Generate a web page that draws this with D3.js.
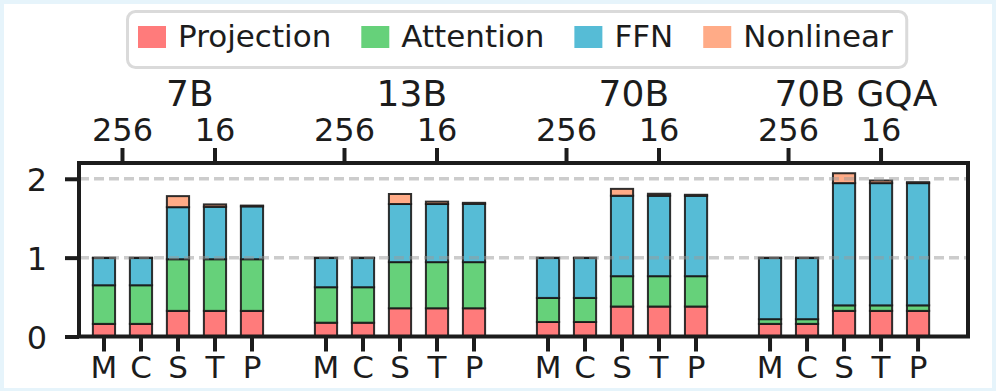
<!DOCTYPE html>
<html>
<head>
<meta charset="utf-8">
<script src="https://cdn.jsdelivr.net/npm/d3@7"></script>
<style>
  html, body { margin: 0; padding: 0; background: #e6f4fb; }
  svg { display: block; font-family: "DejaVu Sans", sans-serif; }
</style>
</head>
<body>
<svg id="chart" width="996" height="391"></svg>
<script>
// chart values
var groups = ["7B", "13B", "70B", "70B GQA"];
var methods = ["M", "C", "S", "T", "P"];
var series = ["Projection", "Attention", "FFN", "Nonlinear"];
var colors = ["#ff7b7b", "#66d17a", "#56bcd6", "#ffab87"];
var topTicks = ["256", "16"];
var yTicks = [0, 1, 2];

// one value per bar: 7B M C S T P, 13B ..., 70B ..., 70B GQA ...
var projection = [0.16, 0.16, 0.325, 0.325, 0.325,
                  0.175, 0.175, 0.358, 0.358, 0.358,
                  0.184, 0.184, 0.38, 0.38, 0.38,
                  0.16, 0.16, 0.325, 0.325, 0.325];
var attention  = [0.49, 0.49, 0.655, 0.655, 0.655,
                  0.45, 0.45, 0.585, 0.585, 0.585,
                  0.305, 0.305, 0.385, 0.385, 0.385,
                  0.06, 0.06, 0.07, 0.07, 0.07];
var ffn        = [0.345, 0.345, 0.66, 0.665, 0.67,
                  0.37, 0.37, 0.737, 0.737, 0.74,
                  0.506, 0.506, 1.02, 1.02, 1.02,
                  0.775, 0.775, 1.55, 1.55, 1.55];
var nonlinear  = [0.005, 0.005, 0.14, 0.03, 0.01,
                  0.005, 0.005, 0.127, 0.03, 0.012,
                  0.005, 0.005, 0.087, 0.025, 0.012,
                  0.005, 0.005, 0.125, 0.033, 0.012];

var svg = d3.select("#chart");
var ink = "#1c1c1c";

// white card
svg.append("rect")
  .attr("x", 4).attr("y", 4)
  .attr("width", 988).attr("height", 384)
  .attr("fill", "#ffffff");

var plotLeft = 79, plotRight = 968, plotTop = 163, plotBottom = 336.5;

// slot index: 6 slots per group (5 bars + gap)
var x = d3.scaleLinear()
  .domain([-0.675, 23.35])
  .range([plotLeft, plotRight]);

var y = d3.scaleLinear()
  .domain([0, 2.2])
  .range([plotBottom, plotTop]);

var rows = [];
groups.forEach(function(g, gi) {
  methods.forEach(function(m, mi) {
    var k = gi * 5 + mi;
    rows.push({
      slot: gi * 6 + mi,
      method: m,
      Projection: projection[k],
      Attention: attention[k],
      FFN: ffn[k],
      Nonlinear: nonlinear[k]
    });
  });
});

var stacked = d3.stack().keys(series)(rows);
var barW = x(0.6) - x(0);

var layers = svg.append("g").selectAll("g")
  .data(stacked)
  .enter()
  .append("g")
  .attr("fill", function(d, i) { return colors[i]; });

layers.selectAll("rect")
  .data(function(d) { return d; })
  .enter()
  .append("rect")
  .attr("x", function(d) { return x(d.data.slot) - barW / 2; })
  .attr("y", function(d) { return y(d[1]); })
  .attr("width", barW)
  .attr("height", function(d) { return y(d[0]) - y(d[1]); })
  .attr("stroke", "#1a1a1a")
  .attr("stroke-opacity", 0.9)
  .attr("stroke-width", 2);

// dashed grid on top of bars
svg.append("g").selectAll("line")
  .data(yTicks.filter(function(d) { return d > 0; }))
  .enter()
  .append("line")
  .attr("x1", plotLeft).attr("x2", plotRight)
  .attr("y1", function(d) { return y(d); })
  .attr("y2", function(d) { return y(d); })
  .attr("stroke", "#999")
  .attr("stroke-opacity", 0.5)
  .attr("stroke-width", 3.5)
  .attr("stroke-dasharray", "10,5");

// frame
svg.append("rect")
  .attr("x", plotLeft).attr("y", plotTop)
  .attr("width", plotRight - plotLeft).attr("height", plotBottom - plotTop)
  .attr("fill", "none")
  .attr("stroke", ink)
  .attr("stroke-width", 4);

// left axis
var yAxis = d3.axisLeft(y)
  .tickValues(yTicks)
  .tickFormat(d3.format("d"))
  .tickSize(14)
  .tickPadding(18);

var gy = svg.append("g")
  .attr("transform", "translate(" + plotLeft + ",0)")
  .call(yAxis);
gy.select(".domain").remove();
gy.selectAll("line").attr("stroke", ink).attr("stroke-width", 4);
gy.selectAll("text")
  .attr("fill", ink)
  .attr("font-size", 32)
  .attr("font-family", "DejaVu Sans")
  .attr("dy", "0.36em");

// bottom axis: method letters
var gx = svg.append("g")
  .attr("transform", "translate(0," + plotBottom + ")");
gx.selectAll("line")
  .data(rows)
  .enter()
  .append("line")
  .attr("x1", function(d) { return x(d.slot); })
  .attr("x2", function(d) { return x(d.slot); })
  .attr("y1", 0).attr("y2", 15)
  .attr("stroke", ink).attr("stroke-width", 4);
gx.selectAll("text")
  .data(rows)
  .enter()
  .append("text")
  .attr("x", function(d) { return x(d.slot); })
  .attr("y", 41.5)
  .attr("text-anchor", "middle")
  .attr("font-size", 31)
  .attr("fill", ink)
  .text(function(d) { return d.method; });

// top axis: 256 / 16 per group, then model name
var topData = [];
groups.forEach(function(g, gi) {
  topData.push({ slot: gi * 6 + 0.5, label: topTicks[0] });
  topData.push({ slot: gi * 6 + 3, label: topTicks[1] });
});

var gt = svg.append("g")
  .attr("transform", "translate(0," + plotTop + ")");
gt.selectAll("line")
  .data(topData)
  .enter()
  .append("line")
  .attr("x1", function(d) { return x(d.slot); })
  .attr("x2", function(d) { return x(d.slot); })
  .attr("y1", 0).attr("y2", -15)
  .attr("stroke", ink).attr("stroke-width", 4);
gt.selectAll("text")
  .data(topData)
  .enter()
  .append("text")
  .attr("x", function(d) { return x(d.slot); })
  .attr("y", -22)
  .attr("text-anchor", "middle")
  .attr("font-size", 32)
  .attr("fill", ink)
  .text(function(d) { return d.label; });

svg.append("g").selectAll("text")
  .data(groups)
  .enter()
  .append("text")
  .attr("x", function(d, i) { return x(i * 6 + 2.32); })
  .attr("y", 106)
  .attr("text-anchor", "middle")
  .attr("font-size", 36)
  .attr("fill", ink)
  .text(function(d) { return d; });

// legend
var legend = svg.append("g");
var legendBox = legend.append("rect")
  .attr("x", 127.5).attr("y", 11.5)
  .attr("height", 56)
  .attr("rx", 8)
  .attr("fill", "#ffffff")
  .attr("stroke", "#dadada")
  .attr("stroke-width", 3);

var lx = 138;
series.forEach(function(s, i) {
  legend.append("rect")
    .attr("x", lx).attr("y", 26)
    .attr("width", 28).attr("height", 22)
    .attr("fill", colors[i]);
  var t = legend.append("text")
    .attr("x", lx + 40)
    .attr("y", 47)
    .attr("font-size", 31)
    .attr("fill", ink)
    .text(s);
  lx += 40 + t.node().getComputedTextLength() + 30;
});
legendBox.attr("width", lx - 30 + 14 - 127.5);
</script>
</body>
</html>
